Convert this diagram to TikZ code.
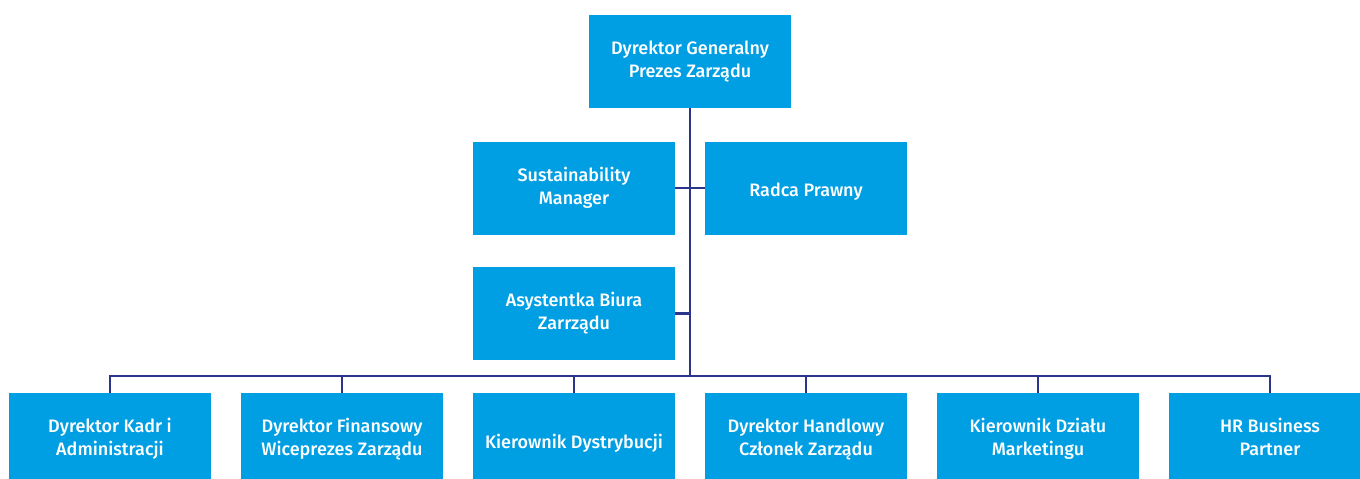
\documentclass[tikz,border=0pt]{standalone}
\usepackage{fontspec}
\setmainfont{Fira Sans}[UprightFont=* Medium]
\definecolor{boxblue}{HTML}{009FE3}
\definecolor{linenavy}{HTML}{2B3589}
\tikzset{
  orgbox/.style={rectangle, fill=boxblue, text=white, minimum width=202pt, minimum height=93pt, inner sep=0pt, align=center, font=\fontsize{18}{23}\selectfont,
    execute at begin node={\rule{0pt}{22pt}}, execute at end node={\rule[-5pt]{0pt}{5pt}}},
  link/.style={draw=linenavy, line width=2.8pt, line join=miter}
}
\begin{document}
\begin{tikzpicture}[x=1pt,y=-1pt]
\useasboundingbox (0,0) rectangle (1360,479);
\clip (0,0) rectangle (1360,479);
\node[orgbox] (top) at (690,61.5) {Dyrektor Generalny\\Prezes Zarządu};
\node[orgbox] (sm) at (574,188) {Sustainability\\Manager};
\node[orgbox] (rp) at (806,188) {Radca Prawny};
\node[orgbox] (ab) at (574,313.5) {Asystentka Biura\\Zarrządu};
\node[orgbox] (b1) at (110,439.5) {Dyrektor Kadr i\\Administracji};
\node[orgbox] (b2) at (342,439.5) {Dyrektor Finansowy\\Wiceprezes Zarządu};
\node[orgbox] (b3) at (574,439.5) {Kierownik Dystrybucji};
\node[orgbox] (b4) at (806,439.5) {Dyrektor Handlowy\\Członek Zarządu};
\node[orgbox] (b5) at (1038,439.5) {Kierownik Działu\\Marketingu};
\node[orgbox] (b6) at (1270,439.5) {HR Business\\Partner};
\coordinate (bus) at (690,376);
\draw[link] (top.south) -- (bus);
\draw[link] (sm.east) -- (rp.west);
\draw[link] (ab.east) -- (ab.east -| bus);
\draw[link] (b1.north) -- (b1.north |- bus) -- (b6.north |- bus) -- (b6.north);
\foreach \n in {b2,b3,b4,b5} {\draw[link] (\n.north) -- (\n.north |- bus);}
\end{tikzpicture}
\end{document}
